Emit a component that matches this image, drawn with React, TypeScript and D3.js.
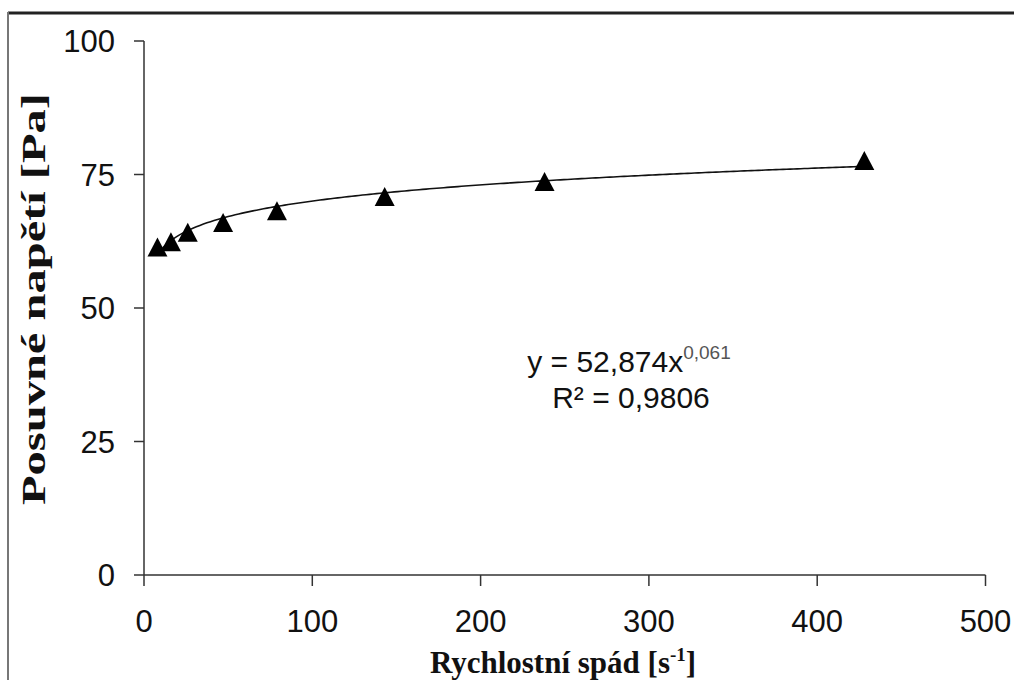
import React from "react";
import * as d3 from "d3";

const shearRate = [8, 16, 26, 47, 79, 143, 238, 428];
const shearStress = [61.4, 62.4, 64.2, 66.0, 68.2, 70.9, 73.7, 77.6];
const xTicks = [0, 100, 200, 300, 400, 500];
const yTicks = [0, 25, 50, 75, 100];
const fitA = 52.874;
const fitB = 0.061;
const eqText = "y = 52,874x";
const eqExp = "0,061";
const r2Text = "R² = 0,9806";

export default function App() {
  const W = 1014, H = 680;
  const x = d3.scaleLinear().domain([0, 500]).range([144, 985.5]);
  const y = d3.scaleLinear().domain([0, 100]).range([575, 41]);
  const xmin = d3.min(shearRate) as number;
  const xmax = d3.max(shearRate) as number;
  const curvePts = d3.range(0, 201).map((i) => {
    const xv = xmin + ((xmax - xmin) * i) / 200;
    return [xv, fitA * Math.pow(xv, fitB)] as [number, number];
  });
  const line = d3.line<[number, number]>().x((d) => x(d[0])).y((d) => y(d[1]));
  const tri = "M0,-9.5L10,9.5L-10,9.5Z";
  const sans = "'Liberation Sans', Arial, sans-serif";
  const serif = "'Liberation Serif', 'Times New Roman', serif";
  return (
    <svg width={W} height={H} style={{ position: "absolute", left: 0, top: 0, background: "#fff" }}>
      <rect x={0} y={0} width={W} height={H} fill="#fff" />
      <line x1={8} y1={13} x2={W} y2={13} stroke="#222" strokeWidth={3} />
      <line x1={8} y1={12} x2={8} y2={H} stroke="#777" strokeWidth={2} />
      {/* axes */}
      <line x1={x(0)} y1={y(0)} x2={x(500)} y2={y(0)} stroke="#333" strokeWidth={1.5} />
      <line x1={x(0)} y1={y(0)} x2={x(0)} y2={y(100)} stroke="#333" strokeWidth={1.5} />
      {xTicks.map((t) => (
        <g key={"x" + t}>
          <line x1={x(t)} y1={y(0)} x2={x(t)} y2={y(0) + 11} stroke="#333" strokeWidth={1.5} />
          <text x={x(t)} y={632} textAnchor="middle" fontFamily={sans} fontSize={31} fill="#111">{t}</text>
        </g>
      ))}
      {yTicks.map((t) => (
        <g key={"y" + t}>
          <line x1={x(0) - 10} y1={y(t)} x2={x(0)} y2={y(t)} stroke="#333" strokeWidth={1.5} />
          <text x={115} y={y(t) + 11} textAnchor="end" fontFamily={sans} fontSize={31} fill="#111">{t}</text>
        </g>
      ))}
      {/* trendline */}
      <path d={line(curvePts) || ""} fill="none" stroke="#111" strokeWidth={1.6} />
      {/* markers */}
      {shearRate.map((xv, i) => (
        <path key={i} d={tri} transform={`translate(${x(xv)},${y(shearStress[i])})`} fill="#000" />
      ))}
      {/* equation */}
      <text x={629} y={372} textAnchor="middle" fontFamily={sans} fontSize={30} fill="#111">
        {eqText}
        <tspan fontSize={19} dy={-13} fill="#555">{eqExp}</tspan>
      </text>
      <text x={631} y={408} textAnchor="middle" fontFamily={sans} fontSize={30} fill="#111">{r2Text}</text>
      {/* axis titles */}
      <text x={563} y={673} textAnchor="middle" fontFamily={serif} fontWeight="bold" fontSize={31} fill="#111">
        Rychlostní spád [s<tspan fontSize={19} dy={-12}>-1</tspan><tspan dy={12}>]</tspan>
      </text>
      <text transform={`translate(45,505) rotate(-90)`} textLength={412} lengthAdjust="spacingAndGlyphs" fontFamily={serif} fontWeight="bold" fontSize={33} fill="#111">
        Posuvné napětí  [Pa]
      </text>
    </svg>
  );
}
